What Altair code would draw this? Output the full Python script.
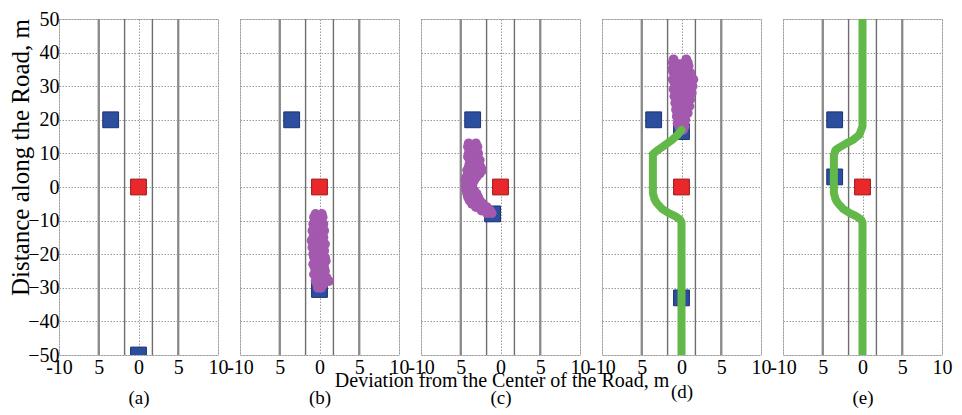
import altair as alt
import pandas as pd

# ---------------- data ----------------
panels = ["(a)", "(b)", "(c)", "(d)", "(e)"]
x_ticks = [-10, -5, 0, 5, 10]
x_tick_labels = ["-10", "5", "0", "5", "10"]
y_ticks = [-50, -40, -30, -20, -10, 0, 10, 20, 30, 40, 50]
x_title = "Deviation from the Center of the Road, m"
y_title = "Distance along the Road, m"

lane_outer_x = [-5, 5]
lane_inner_x = [-1.75, 1.75]

# ego vehicle (red) and other vehicles (blue), per panel
red_x = {"(a)": [0], "(b)": [0], "(c)": [0], "(d)": [0], "(e)": [0]}
red_y = {"(a)": [0], "(b)": [0], "(c)": [0], "(d)": [0], "(e)": [0]}
blue_x = {"(a)": [-3.5, 0], "(b)": [-3.5, 0], "(c)": [-3.5, -1.0],
          "(d)": [-3.5, 0, 0], "(e)": [-3.5, -3.5]}
blue_y = {"(a)": [20, -50], "(b)": [20, -30.5], "(c)": [20, -8],
          "(d)": [20, 16.5, -33], "(e)": [20, 3]}

# purple predicted-trajectory blobs (left and right edge samples)
blob_b_y = [-8, -9, -10, -11, -12, -13, -14, -15, -16, -17, -18, -19, -20,
            -21, -22, -23, -24, -25, -26, -27, -28, -29, -30]
blob_b_xl = [-0.5, -0.7, -0.6, -0.8, -0.7, -0.9, -0.6, -0.8, -1.0, -0.7, -0.9,
             -0.6, -0.8, -0.7, -0.5, -0.8, -0.6, -0.5, -0.7, -0.4, -0.5, -0.3, -0.2]
blob_b_xr = [0.3, 0.4, 0.2, 0.5, 0.4, 0.6, 0.3, 0.5, 0.4, 0.7, 0.5, 0.6, 0.4,
             0.7, 0.8, 0.5, 0.6, 0.7, 0.5, 0.9, 1.2, 0.5, 0.2]

blob_c_y = [13, 12, 11, 10, 9, 8, 7, 6, 5, 4, 3, 2, 1, 0, -1, -2, -3, -4, -5,
            -6, -7, -7.8]
blob_c_xl = [-4.0, -4.1, -3.9, -4.0, -4.1, -3.8, -3.9, -4.0, -4.2, -4.1, -4.3,
             -4.4, -4.3, -4.4, -4.3, -4.2, -4.1, -3.9, -3.6, -3.1, -2.4, -1.7]
blob_c_xr = [-3.1, -2.9, -3.0, -2.8, -2.9, -2.6, -2.7, -2.5, -2.3, -2.6, -3.0,
             -3.3, -3.5, -3.6, -3.3, -3.0, -2.8, -2.6, -2.2, -1.7, -1.3, -1.1]

blob_d_y = [17, 18, 19, 20, 21, 22, 23, 24, 25, 26, 27, 28, 29, 30, 31, 32,
            33, 34, 35, 36, 37, 38]
blob_d_xl = [-0.1, -0.3, -0.5, -0.4, -0.6, -0.5, -0.7, -0.5, -0.8, -0.6, -0.9,
             -0.7, -1.0, -0.8, -0.9, -1.1, -0.8, -1.0, -1.2, -0.9, -1.1, -1.0]
blob_d_xr = [0.2, 0.4, 0.3, 0.5, 0.4, 0.8, 0.6, 1.0, 0.7, 1.1, 0.8, 1.3, 1.0,
             1.4, 1.0, 1.5, 0.9, 1.1, 0.7, 0.9, 0.8, 0.6]

blobs = {"(b)": (blob_b_y, blob_b_xl, blob_b_xr),
         "(c)": (blob_c_y, blob_c_xl, blob_c_xr),
         "(d)": (blob_d_y, blob_d_xl, blob_d_xr)}

# green planned paths
path_d_x = [0, 0, -0.2, -0.8, -1.6, -2.4, -3.1, -3.4, -3.6, -3.6, -3.1, -2.2,
            -1.2, -0.5, 0]
path_d_y = [-50, -10.5, -9.6, -8.7, -7.8, -6.6, -4.8, -3.6, -1.8, 9.8, 10.8,
            12.3, 14.0, 15.5, 17]
path_e_x = [0, 0, -0.2, -0.8, -1.6, -2.4, -3.1, -3.4, -3.6, -3.6, -3.4, -2.9,
            -2.1, -1.2, -0.4, 0, 0]
path_e_y = [-50, -10.5, -9.6, -8.7, -7.8, -6.6, -4.8, -3.6, -1.8, 9.5, 11.0,
            11.8, 12.9, 14.0, 15.5, 18, 50]
paths = {"(d)": (path_d_x, path_d_y), "(e)": (path_e_x, path_e_y)}

# ---------------- styles ----------------
FONT = "Liberation Serif"
W, H = 159, 336
SPACING = 22
caption_pad = {"(a)": 11, "(b)": 11, "(c)": 11, "(d)": 5, "(e)": 11}
PURPLE = "#a259ae"

label_expr = " : ".join(
    f"datum.value == {v} ? '{t}'" for v, t in zip(x_ticks, x_tick_labels)
) + " : ''"


def make_panel(key, first):
    x_enc = alt.X(
        "x:Q",
        scale=alt.Scale(domain=[-10, 10], nice=False, zero=False),
        axis=alt.Axis(values=x_ticks, labelExpr=label_expr, title=key,
                      titlePadding=caption_pad[key], grid=True, ticks=False,
                      domain=False, labelPadding=2, labelFlush=False,
                      labelOverlap=False, labelFont=FONT, titleFont=FONT,
                      labelFontSize=20, titleFontSize=19),
    )
    if first:
        yax = alt.Axis(values=y_ticks, title=y_title, grid=True, ticks=False,
                       domain=False, labelPadding=0, titlePadding=-6,
                       titleY=138, labelFlush=False, labelOverlap=False,
                       labelFont=FONT, titleFont=FONT, labelFontSize=20,
                       titleFontSize=25)
    else:
        yax = alt.Axis(values=y_ticks, title=None, grid=True, ticks=False,
                       domain=False, labels=False)
    y_enc = alt.Y("y:Q", scale=alt.Scale(domain=[-50, 50], nice=False,
                                         zero=False), axis=yax)

    lanes_o = alt.Chart(pd.DataFrame({"x": lane_outer_x})).mark_rule(
        color="#8a8a8a", strokeWidth=2.3).encode(x=x_enc)
    lanes_i = alt.Chart(pd.DataFrame({"x": lane_inner_x})).mark_rule(
        color="#6e6e6e", strokeWidth=1.4).encode(x=x_enc)

    blue = alt.Chart(pd.DataFrame({"x": blue_x[key], "y": blue_y[key]})).mark_square(
        size=250, color="#2b4f9e", stroke="#1b3270", strokeWidth=1, opacity=1,
        clip=True).encode(x=x_enc, y=y_enc)
    red = alt.Chart(pd.DataFrame({"x": red_x[key], "y": red_y[key]})).mark_square(
        size=250, color="#e8282b", stroke="#9c1a1a", strokeWidth=1, opacity=1,
        clip=True).encode(x=x_enc, y=y_enc)

    layers = [lanes_o, lanes_i, blue, red]

    if key in blobs:
        by, bl, br = blobs[key]
        area_df = pd.DataFrame({"y": by, "x": bl, "x2": br})
        layers.append(alt.Chart(area_df).mark_area(
            orient="horizontal", color=PURPLE, opacity=1, clip=True).encode(
            y=y_enc, x=x_enc, x2="x2:Q"))
        pts = pd.DataFrame({"x": list(bl) + list(br), "y": list(by) + list(by)})
        layers.append(alt.Chart(pts).mark_circle(
            size=95, color=PURPLE, opacity=1, clip=True).encode(x=x_enc, y=y_enc))

    if key in paths:
        px, py = paths[key]
        df = pd.DataFrame({"x": px, "y": py, "o": list(range(len(px)))})
        layers.append(alt.Chart(df).mark_line(
            color="#62b848", strokeWidth=8, strokeCap="round",
            strokeJoin="round", clip=True).encode(x=x_enc, y=y_enc, order="o:O"))

    if key == "(c)":
        layers.append(alt.Chart(pd.DataFrame({"t": [x_title]})).mark_text(
            fontSize=20, font=FONT, color="black", align="center",
            baseline="middle").encode(x=alt.value(81), y=alt.value(362),
                                      text="t:N"))

    return alt.layer(*layers).properties(width=W, height=H)


chart = alt.hconcat(
    *[make_panel(k, i == 0) for i, k in enumerate(panels)],
    spacing=SPACING, bounds="flush",
).properties(
    padding={"left": 0, "top": 0, "right": 0, "bottom": 0}
).configure(
    font=FONT,
).configure_view(
    stroke="#c4c4c4", strokeWidth=1,
).configure_axis(
    labelFont=FONT, titleFont=FONT, labelFontSize=20, titleFontSize=20,
    labelColor="black", titleColor="black", titleFontWeight="normal",
    gridColor="#9a9a9a", gridDash=[1.5, 1.5], gridWidth=1, gridOpacity=1,
)

chart.save("out.html", embed_options={"renderer": "svg", "actions": False})
